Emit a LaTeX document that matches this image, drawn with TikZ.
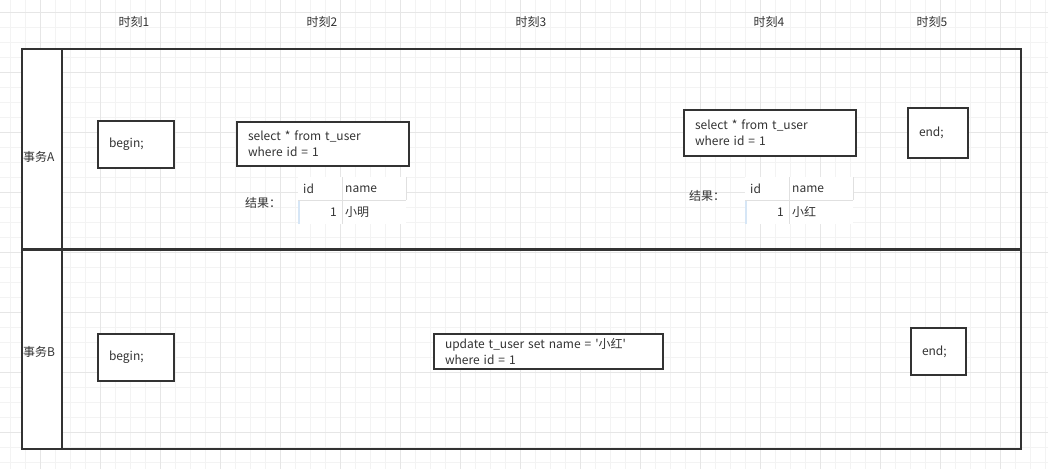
\documentclass[tikz,border=0pt]{standalone}
\usepackage{fontspec}
\setmainfont{Noto Sans CJK SC}
\usetikzlibrary{positioning}
\definecolor{ink}{HTML}{333333}
\definecolor{txt}{HTML}{333333}
\definecolor{gridmin}{HTML}{F3F3F3}
\definecolor{gridmaj}{HTML}{E6E6E6}
\definecolor{tline}{HTML}{E0E0E0}
\definecolor{tblue}{HTML}{D6E6F6}

\tikzset{
  box/.style={draw=ink, line width=2pt, fill=white, anchor=north west, align=left,
    inner xsep=11pt, inner ysep=1pt, text=txt, font=\fontsize{12}{16}\selectfont},
  lane/.style={draw=ink, line width=2pt},
  lbl/.style={text=txt, font=\fontsize{12}{15}\selectfont, inner sep=0pt},
}

% result table: x, y, value, prefix
\newcommand{\restbl}[4]{%
  \fill[white] (#1,#2) rectangle ++(108,47);
  \draw[tline] (#1,#2+23) -- ++(108,0);
  \draw[tline] (#1+44,#2) -- ++(0,47);
  \draw[tline] (#1+108,#2) -- ++(0,23);
  \draw[tblue, line width=2pt] (#1+1,#2+24) -- ++(0,23);
  \node[lbl, anchor=west] (#4id) at (#1+5,#2+12) {id};
  \node[lbl, anchor=west] (#4name) at (#1+47,#2+12) {name};
  \node[lbl, anchor=east] (#4v1) at (#1+39,#2+35) {1};
  \node[lbl, anchor=west] (#4v2) at (#1+47,#2+35) {#3};
}

\begin{document}
\begin{tikzpicture}[x=1pt, y=-1pt]
  \useasboundingbox (0,0) rectangle (1048,469);
  \fill[white] (0,0) rectangle (1048,469);
  \foreach \i in {0,...,69} \draw[gridmin] (10+15*\i,0) -- (10+15*\i,469);
  \foreach \i in {0,...,30} \draw[gridmin] (0,11.7+15*\i) -- (1048,11.7+15*\i);
  \foreach \i in {0,...,17} \draw[gridmaj] (40+60*\i,0) -- (40+60*\i,469);
  \foreach \i in {0,...,7} \draw[gridmaj] (0,11.7+60*\i) -- (1048,11.7+60*\i);

  % time labels
  \foreach \n/\x in {1/134, 2/322, 3/531, 4/769, 5/932}
    \node[lbl] (t\n) at (\x,22) {时刻\n};

  % lanes
  \fill[white] (22,49) rectangle (62,449);
  \draw[lane] (22,49) rectangle (1021,449);
  \draw[lane] (62,49) -- (62,449);
  \draw[ink, line width=3pt] (22,249) -- (1021,249);
  \node[lbl, anchor=west] (laneA) at (23,157) {事务A};
  \node[lbl, anchor=west] (laneB) at (23,352) {事务B};

  % transaction A
  \node[box, text width=54pt, minimum height=47pt] (beginA) at (97,120) {begin;};
  \node[box, text width=150pt, minimum height=44pt] (selA) at (236,121) {select * from t\_user\\where id = 1};
  \node[lbl, anchor=west] (resA) at (245,203) {结果：};
  \restbl{298}{177}{小明}{ta}
  \node[box, text width=150pt, minimum height=46pt] (selB) at (683,109) {select * from t\_user\\where id = 1};
  \node[lbl, anchor=west] (resB) at (689,196) {结果：};
  \restbl{745}{177}{小红}{tb}
  \node[box, text width=38pt, minimum height=50pt] (endA) at (907,107) {end;};

  % transaction B
  \node[box, text width=54pt, minimum height=47pt] (beginB) at (97,333) {begin;};
  \node[box, text width=207pt, minimum height=35pt] (upd) at (433,333) {update t\_user set name = \textquotesingle 小红\textquotesingle\\where id = 1};
  \node[box, text width=33pt, minimum height=47pt] (endB) at (910,327) {end;};
\end{tikzpicture}
\end{document}
